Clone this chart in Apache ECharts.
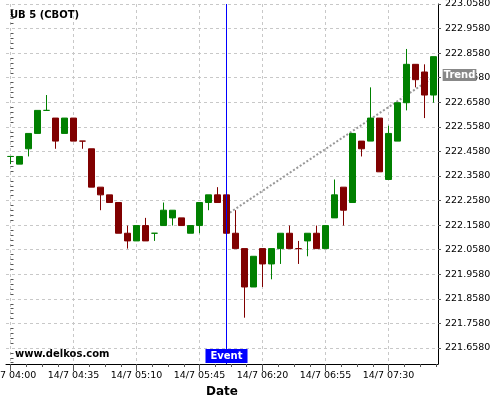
<!DOCTYPE html>
<html><head><meta charset="utf-8">
<script src="https://cdn.jsdelivr.net/npm/echarts@6/dist/echarts.min.js"></script>
<style>html,body{margin:0;padding:0;background:#fff}#c{width:500px;height:400px}</style>
</head><body><div id="c"></div>
<script>
const chartTitle = 'UB 5 (CBOT)';
const watermark = 'www.delkos.com';
const times = ['14/7 04:00','14/7 04:05','14/7 04:10','14/7 04:15','14/7 04:20','14/7 04:25','14/7 04:30','14/7 04:35',
  '14/7 04:40','14/7 04:45','14/7 04:50','14/7 04:55','14/7 05:00','14/7 05:05','14/7 05:10','14/7 05:15',
  '14/7 05:20','14/7 05:25','14/7 05:30','14/7 05:35','14/7 05:40','14/7 05:45','14/7 05:50','14/7 05:55',
  '14/7 06:00','14/7 06:05','14/7 06:10','14/7 06:15','14/7 06:20','14/7 06:25','14/7 06:30','14/7 06:35',
  '14/7 06:40','14/7 06:45','14/7 06:50','14/7 06:55','14/7 07:00','14/7 07:05','14/7 07:10','14/7 07:15',
  '14/7 07:20','14/7 07:25','14/7 07:30','14/7 07:35','14/7 07:40','14/7 07:45','14/7 07:50','14/7 07:55'];
const open = [222.4375,222.40625,222.46875,222.53125,222.625,222.59375,222.53125,222.59375,
  222.5,222.46875,222.3125,222.28125,222.25,222.125,222.09375,222.15625,
  222.125,222.15625,222.1875,222.1875,222.125,222.15625,222.25,222.28125,
  222.28125,222.125,222.0625,221.90625,222.0625,222.0,222.0625,222.125,
  222.0625,222.09375,222.125,222.0625,222.1875,222.3125,222.25,222.5,
  222.5,222.59375,222.34375,222.5,222.65625,222.8125,222.78125,222.6875];
const close = [222.4375,222.4375,222.53125,222.625,222.625,222.5,222.59375,222.5,
  222.5,222.3125,222.28125,222.25,222.125,222.09375,222.15625,222.09375,
  222.125,222.21875,222.21875,222.15625,222.15625,222.25,222.28125,222.25,
  222.125,222.0625,221.90625,222.03125,222.0,222.0625,222.125,222.0625,
  222.0625,222.125,222.0625,222.15625,222.28125,222.21875,222.53125,222.46875,
  222.59375,222.375,222.53125,222.65625,222.8125,222.75,222.6875,222.84375];
const low = [222.40625,222.40625,222.4375,222.53125,222.625,222.46875,222.53125,222.5,
  222.46875,222.3125,222.21875,222.25,222.125,222.0625,222.09375,222.09375,
  222.09375,222.15625,222.15625,222.15625,222.125,222.125,222.21875,222.25,
  222.125,222.0625,221.78125,221.90625,221.90625,221.9375,222.0,222.0625,
  222.0,222.03125,222.0625,222.0625,222.1875,222.15625,222.25,222.4375,
  222.5,222.375,222.34375,222.5,222.625,222.71875,222.59375,222.65625];
const high = [222.4375,222.4375,222.53125,222.625,222.6875,222.59375,222.59375,222.59375,
  222.5,222.46875,222.3125,222.28125,222.25,222.15625,222.15625,222.1875,
  222.125,222.25,222.21875,222.1875,222.15625,222.25,222.28125,222.3125,
  222.28125,222.21875,222.0625,222.03125,222.0625,222.0625,222.125,222.15625,
  222.09375,222.125,222.15625,222.15625,222.34375,222.3125,222.53125,222.5,
  222.71875,222.59375,222.5625,222.65625,222.875,222.8125,222.8125,222.84375];
const downDoji = ['14/7 04:40','14/7 06:40'];
const yTicks = [221.658,221.758,221.858,221.958,222.058,222.158,222.258,222.358,222.458,222.558,222.658,222.758,222.858,222.958,223.058];
const yMin = 221.5928, yMax = 223.058;
const xLabelEvery = 7;
const eventTime = '14/7 06:00';
const trendFrom = ['14/7 06:00', 222.2];
const trendTo = ['14/7 07:55', 222.76];

const UP = '#008000', DOWN = '#800000';
const FONT = 'DejaVu Sans';
const candleData = times.map((t, i) => {
  const item = { value: [open[i], close[i], low[i], high[i]] };
  if (downDoji.indexOf(t) >= 0) item.itemStyle = { color: DOWN, color0: DOWN, borderColor: DOWN, borderColor0: DOWN, borderColorDoji: DOWN };
  return item;
});
const majorIdx = times.map((t, i) => i).filter(i => i % xLabelEvery === 0);
const minorIdx = [];
majorIdx.forEach(m => { for (let j = 1; j < 4; j++) { const v = m + j * xLabelEvery / 4; if (v <= times.length - 0.5) minorIdx.push(v); } });
const yStep = (yTicks[1] - yTicks[0]) / 5;
const yMinor = [];
for (let j = 1; j < 5; j++) { const v = yTicks[0] - j * yStep; if (v >= yMin) yMinor.push(+v.toFixed(4)); }
yTicks.forEach((t, k) => { if (k < yTicks.length - 1) for (let j = 1; j < 5; j++) yMinor.push(+(t + j * yStep).toFixed(4)); });

const chart = echarts.init(document.getElementById('c'), null, { renderer: 'canvas' });
chart.setOption({
  animation: false,
  backgroundColor: '#fff',
  title: { text: chartTitle, left: 10, top: 10, padding: 0, textStyle: { fontFamily: FONT, fontSize: 10, fontWeight: 'bold', color: '#000' } },
  graphic: [{ type: 'text', left: 15, top: 349, z: 50, style: { text: watermark, font: 'bold 10px "DejaVu Sans"', fill: '#000' } }],
  grid: { left: 6, right: 62, top: 4, bottom: 36, containLabel: false, outerBoundsMode: 'none' },
  xAxis: [
    { type: 'category', data: times, boundaryGap: true, position: 'bottom',
      name: 'Date', nameLocation: 'middle', nameGap: 19,
      nameTextStyle: { fontFamily: FONT, fontSize: 12, fontWeight: 'bold', color: '#000' },
      axisLine: { show: true, onZero: false, lineStyle: { color: '#000', width: 1 } },
      axisTick: { show: true, alignWithLabel: true, interval: xLabelEvery - 1, length: 7, lineStyle: { color: '#555' } },
      axisLabel: { interval: xLabelEvery - 1, margin: 7, fontFamily: FONT, fontSize: 9.5, color: '#000', hideOverlap: false },
      splitLine: { show: false } },
    { type: 'value', min: -0.5, max: times.length - 0.5, position: 'bottom',
      axisLine: { show: false }, axisLabel: { show: false },
      axisTick: { show: true, customValues: minorIdx, length: 3, lineStyle: { color: '#555' } },
      splitLine: { show: false } },
    { type: 'value', min: -0.5, max: times.length - 0.5, position: 'top',
      axisLine: { show: false }, axisLabel: { show: false },
      axisTick: { show: false, customValues: majorIdx },
      splitLine: { show: true, lineStyle: { color: '#c8c8c8', type: [3, 3], width: 1 } } }
  ],
  yAxis: [
    { type: 'value', position: 'right', min: yMin, max: yMax,
      axisLine: { show: true, onZero: false, lineStyle: { color: '#000', width: 1 } },
      axisTick: { show: true, customValues: yTicks, length: 3, lineStyle: { color: '#555' } },
      axisLabel: { customValues: yTicks, margin: 7, fontFamily: FONT, fontSize: 9.5, color: '#000', formatter: v => v.toFixed(4) },
      splitLine: { show: true, lineStyle: { color: '#c8c8c8', type: [3, 3], width: 1 } } },
    { type: 'value', position: 'right', min: yMin, max: yMax, offset: 0,
      axisLine: { show: false }, axisLabel: { show: false },
      axisTick: { show: true, customValues: yMinor, length: 3, lineStyle: { color: '#555' } },
      splitLine: { show: false } }
  ],
  series: [
    { type: 'candlestick', xAxisIndex: 0, yAxisIndex: 0, data: candleData, barWidth: 7, z: 2,
      itemStyle: { color: UP, color0: DOWN, borderColor: UP, borderColor0: DOWN, borderWidth: 1 },
      markLine: { symbol: 'none', silent: true, animation: false, z: 10,
        lineStyle: { color: '#0000ff', width: 1, type: 'solid' },
        label: { show: true, position: 'start', distance: -15, formatter: 'Event', color: '#fff', fontWeight: 'bold', fontSize: 10, fontFamily: FONT, backgroundColor: '#0000ff', padding: [1, 5], lineHeight: 12 },
        emphasis: { disabled: true },
        data: [{ xAxis: eventTime }] } },
    { type: 'line', xAxisIndex: 0, yAxisIndex: 0, data: [], z: 1, silent: true,
      markLine: { symbol: 'none', silent: true, animation: false, z: 1,
        lineStyle: { color: '#999', width: 2, type: [2, 2] },
        label: { show: true, position: 'end', distance: [11, 4], formatter: 'Trend', color: '#fff', fontWeight: 'bold', fontSize: 10, fontFamily: FONT, backgroundColor: '#888', padding: [0, 1], lineHeight: 12 },
        emphasis: { disabled: true },
        data: [[{ coord: trendFrom }, { coord: trendTo }]] } }
  ]
});
</script></body></html>
